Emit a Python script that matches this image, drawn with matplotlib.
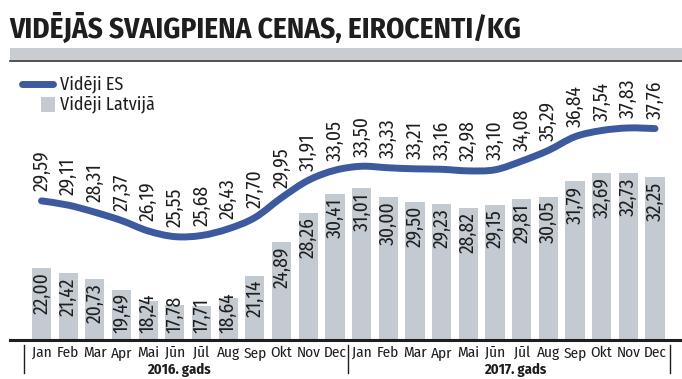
import matplotlib
matplotlib.use("Agg")
import matplotlib.pyplot as plt
from matplotlib.path import Path
from matplotlib.patches import PathPatch, Rectangle
import numpy as np

months = ["Jan", "Feb", "Mar", "Apr", "Mai", "Jūn", "Jūl", "Aug", "Sep", "Okt", "Nov", "Dec"] * 2
years = ["2016. gads", "2017. gads"]
es_values = [29.59, 29.11, 28.31, 27.37, 26.19, 25.55, 25.68, 26.43, 27.70, 29.95, 31.91, 33.05,
             33.50, 33.33, 33.21, 33.16, 32.98, 33.10, 34.08, 35.29, 36.84, 37.54, 37.83, 37.76]
lv_values = [22.00, 21.42, 20.73, 19.49, 18.24, 17.78, 17.71, 18.64, 21.14, 24.89, 28.26, 30.41,
             31.01, 30.00, 29.50, 29.23, 28.82, 29.15, 29.81, 30.05, 31.79, 32.69, 32.73, 32.25]
title = "VIDĒJĀS SVAIGPIENA CENAS, EIROCENTI/KG"
legend_labels = ["Vidēji ES", "Vidēji Latvijā"]

W, H = 682, 379
fig = plt.figure(figsize=(W / 100, H / 100), dpi=100)
fig.patch.set_facecolor("white")

COND = ["Fira Sans Condensed", "DejaVu Sans"]
BLUE = "#3d5a9e"
GREY = "#c3cad1"
DARK = "#1e1e1e"

def fx(px):
    return px / W

def fy(py):
    return 1 - py / H

# title
fig.text(fx(9), fy(29), title, family=COND, fontweight="bold",
         fontsize=21, color=DARK, ha="left", va="center")
# grey band + line
fig.patches.append(Rectangle((fx(10), fy(60)), 1 - fx(10), (60 - 48) / H,
                             transform=fig.transFigure, facecolor="#c9cdd1", edgecolor="none"))
fig.add_artist(plt.Line2D([fx(10), 1], [fy(61), fy(61)], transform=fig.transFigure,
                          color="#333333", lw=1.2))

# axes
ax_left, ax_right, ax_top, ax_bot = 10, 682, 62, 340
ax = fig.add_axes([fx(ax_left), fy(ax_bot), (ax_right - ax_left) / W, (ax_bot - ax_top) / H])
ax.set_facecolor("none")
x = np.arange(len(months))
spacing = (655 - 41.5) / 23
ax.set_xlim(-(41.5 - ax_left) / spacing, 23 + (ax_right - 655) / spacing)
scale = 8.85
ymin = 13.87
ax.set_ylim(ymin, ymin + (ax_bot - ax_top) / scale)
for s in ["top", "right", "left"]:
    ax.spines[s].set_visible(False)
ax.spines["bottom"].set_color(DARK)
ax.spines["bottom"].set_linewidth(2.2)
ax.set_yticks([])
ax.set_xticks(x)
ax.set_xticklabels(months, family=COND, fontsize=11, color=DARK)
ax.tick_params(axis="x", length=0, pad=4)

ax.bar(x, lv_values, width=0.72, bottom=0, color=GREY, zorder=1)

# smooth ES line through the points (Catmull-Rom -> Bezier)
pts = np.column_stack([x, es_values])
verts = [tuple(pts[0])]
codes = [Path.MOVETO]
n = len(pts)
for i in range(n - 1):
    p0 = pts[max(i - 1, 0)]
    p1 = pts[i]
    p2 = pts[i + 1]
    p3 = pts[min(i + 2, n - 1)]
    c1 = p1 + (p2 - p0) / 6
    c2 = p2 - (p3 - p1) / 6
    verts += [tuple(c1), tuple(c2), tuple(p2)]
    codes += [Path.CURVE4] * 3
ax.add_patch(PathPatch(Path(verts, codes), facecolor="none", edgecolor=BLUE, lw=5,
                       capstyle="round", joinstyle="round", zorder=3))

lab_font = dict(family=COND, fontsize=14, color=DARK, rotation=90)
for xi, v in zip(x, es_values):
    ax.annotate(f"{v:.2f}".replace(".", ","), (xi, v), xytext=(0, 7), textcoords="offset points",
                ha="center", va="bottom", zorder=4, **lab_font)
for xi, v in zip(x, lv_values):
    txt = f"{v:.2f}".replace(".", ",")
    if (v - ymin) * scale < 53:
        # short bar: label sits on a fixed gap above the baseline
        ax.annotate(txt, (xi, ymin), xytext=(0, 5), textcoords="offset points",
                    ha="center", va="bottom", zorder=4, **lab_font)
    else:
        ax.annotate(txt, (xi, v), xytext=(0, -3), textcoords="offset points",
                    ha="center", va="top", zorder=4, **lab_font)

# year labels and separators
fig.text(fx(179), fy(370), years[0], family=COND, fontweight="bold",
         fontsize=10.5, color=DARK, ha="center", va="center")
fig.text(fx(515), fy(370), years[1], family=COND, fontweight="bold",
         fontsize=10.5, color=DARK, ha="center", va="center")
for px in [24, 348, 670]:
    fig.add_artist(plt.Line2D([fx(px), fx(px)], [fy(345), fy(373)], transform=fig.transFigure,
                              color=DARK, lw=1))

# legend
fig.add_artist(plt.Line2D([fx(22), fx(53)], [fy(84), fy(84)], transform=fig.transFigure,
                          color=BLUE, lw=5, solid_capstyle="round"))
fig.text(fx(60), fy(84), legend_labels[0], family=COND, fontsize=13, color=DARK,
         ha="left", va="center")
fig.patches.append(Rectangle((fx(41), fy(112)), 14 / W, 15 / H, transform=fig.transFigure,
                             facecolor=GREY, edgecolor="none"))
fig.text(fx(60), fy(104), legend_labels[1], family=COND, fontsize=13, color=DARK,
         ha="left", va="center")

fig.savefig("out.png", dpi=100)
